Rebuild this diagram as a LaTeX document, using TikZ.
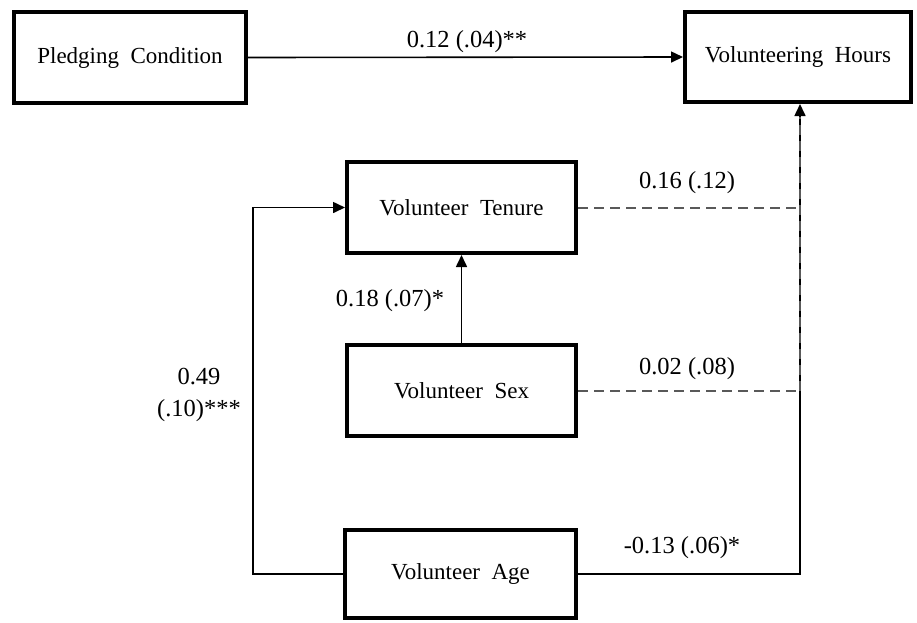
\documentclass[tikz,border=0pt]{standalone}
\usepackage{fontspec}
\setmainfont{Liberation Serif}
\usetikzlibrary{arrows.meta}
\tikzset{
  box/.style={draw, line width=4pt, inner sep=0pt, font=\fontsize{23}{27}\selectfont},
  conn/.style={line width=1.6pt, -{Triangle[length=12pt,width=11pt]}},
  dashline/.style={line width=2pt, draw=black!65, dash pattern=on 10pt off 6pt},
  lab/.style={font=\fontsize{24.5}{29}\selectfont, inner sep=0pt, anchor=base}
}
\begin{document}
\begin{tikzpicture}[x=1pt,y=-1pt]
\useasboundingbox (0,0) rectangle (917,622);
\node[box, minimum width=232pt, minimum height=91pt] (PC) at (130,57.5) {Pledging~~Condition};
\node[box, minimum width=226pt, minimum height=90pt] (VH) at (798,57) {Volunteering~~Hours};
\node[box, minimum width=229pt, minimum height=91pt] (VT) at (461.5,207.5) {Volunteer~~Tenure};
\node[box, minimum width=229pt, minimum height=91pt] (VS) at (461.5,390.5) {Volunteer~~Sex};
\node[box, minimum width=231pt, minimum height=88pt] (VA) at (460.5,574) {Volunteer~~Age};
\coordinate (L) at (253,0);
\coordinate (R) at (800,0);
% connectors
\draw[conn] (PC.east) -- (VH.west);
\draw[conn] (VS.north) -- (VT.south);
\draw[conn] (VA.west) -- (VA.west -| L) -- (VT.west -| L) -- (VT.west);
\draw[dashline] (VT.east) -- (VT.east -| R);
\draw[dashline] (VS.east) -- (VS.east -| R);
\draw[conn] (VA.east) -- (VA.east -| R) -- (R |- VH.south);
\draw[dashline, xshift=1.5pt] (VS.east -| R) -- ([yshift=-13pt]R |- VH.south);
% labels
\node[lab] (l1) at (467,47.5) {0.12 (.04)**};
\node[lab] (l2) at (687,188.5) {0.16 (.12)};
\node[lab] (l3) at (687,374.5) {0.02 (.08)};
\node[lab] (l4) at (682,553.5) {-0.13 (.06)*};
\node[lab] (l5) at (390,306.5) {0.18 (.07)*};
\node[lab] (l6) at (199,384.5) {0.49};
\node[lab] (l7) at (199,416.5) {(.10)***};
\end{tikzpicture}
\end{document}
